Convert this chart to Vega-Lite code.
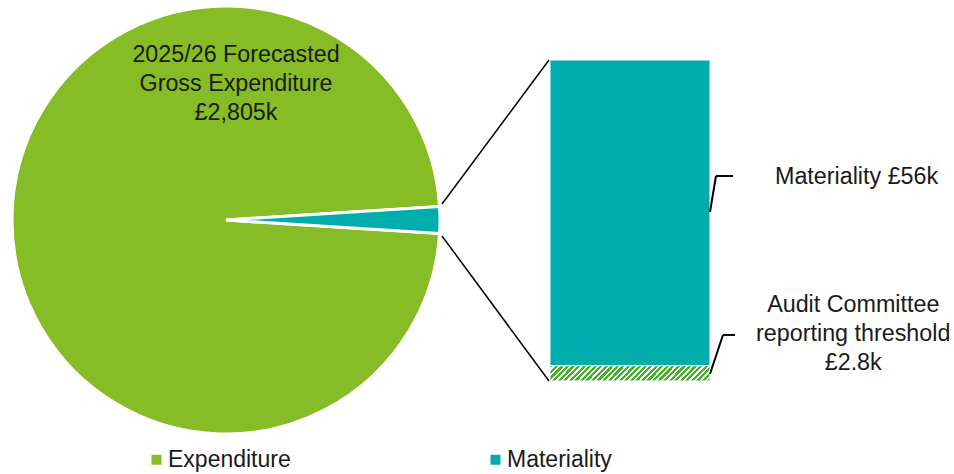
{
  "$schema": "https://vega.github.io/schema/vega-lite/v6.json",
  "width": 954,
  "height": 474,
  "padding": 0,
  "autosize": {"type": "none"},
  "background": "#ffffff",
  "config": {"view": {"stroke": null}},
  "datasets": {
    "pie": [
      {"category": "Expenditure", "amount": 2749},
      {"category": "Materiality", "amount": 56}
    ],
    "bar": [
      {"segment": "Materiality", "amount": 56},
      {"segment": "Threshold", "amount": 2.8}
    ]
  },
  "layer": [
    {
      "data": {"name": "pie"},
      "mark": {"type": "arc", "outerRadius": 214, "stroke": "#ffffff", "strokeWidth": 3},
      "encoding": {
        "theta": {"field": "amount", "type": "quantitative", "stack": true, "scale": {"range": [-4.6497, 1.6335]}},
        "color": {
          "field": "category",
          "type": "nominal",
          "scale": {"domain": ["Expenditure", "Materiality"], "range": ["#86bc25", "#00acac"]},
          "legend": {
            "orient": "none",
            "legendX": 145,
            "legendY": 448,
            "direction": "horizontal",
            "title": null,
            "symbolType": "square",
            "symbolSize": 100,
            "symbolStrokeWidth": 0,
            "labelFont": "Liberation Sans",
            "labelFontSize": 23,
            "labelColor": "#1a1a1a",
            "labelOffset": 0,
            "columnPadding": 193
          }
        },
        "x": {"datum": 41.4, "type": "quantitative", "scale": {"domain": [0, 174.76], "nice": false, "zero": false}, "axis": null},
        "y": {"datum": 29.49, "type": "quantitative", "scale": {"domain": [-17.04, 69.79], "nice": false, "zero": false}, "axis": null}
      }
    },
    {
      "data": {"name": "bar"},
      "transform": [
        {"stack": "amount", "groupby": [], "sort": [{"field": "segment", "order": "descending"}], "as": ["y0", "y1"]}
      ],
      "mark": {"type": "rect", "stroke": "#ffffff", "strokeWidth": 1},
      "encoding": {
        "x": {"datum": 100.75, "type": "quantitative", "scale": {"domain": [0, 174.76], "nice": false, "zero": false}, "axis": null},
        "x2": {"datum": 130.06},
        "y": {"field": "y0", "type": "quantitative", "scale": {"domain": [-17.04, 69.79], "nice": false, "zero": false}, "axis": null},
        "y2": {"field": "y1"},
        "fill": {
          "condition": {
            "test": "datum.segment === 'Threshold'",
            "value": {
              "gradient": "linear",
              "x1": 0, "y1": 0, "x2": 1.1, "y2": 0.103,
              "stops": [
                {"offset": 0, "color": "#46b02c"},
                {"offset": 0.018, "color": "#46b02c"}, {"offset": 0.018, "color": "#ffffff"},
                {"offset": 0.03125, "color": "#ffffff"}, {"offset": 0.03125, "color": "#46b02c"},
                {"offset": 0.049, "color": "#46b02c"}, {"offset": 0.049, "color": "#ffffff"},
                {"offset": 0.0625, "color": "#ffffff"}, {"offset": 0.0625, "color": "#46b02c"},
                {"offset": 0.0805, "color": "#46b02c"}, {"offset": 0.0805, "color": "#ffffff"},
                {"offset": 0.09375, "color": "#ffffff"}, {"offset": 0.09375, "color": "#46b02c"},
                {"offset": 0.112, "color": "#46b02c"}, {"offset": 0.112, "color": "#ffffff"},
                {"offset": 0.125, "color": "#ffffff"}, {"offset": 0.125, "color": "#46b02c"},
                {"offset": 0.143, "color": "#46b02c"}, {"offset": 0.143, "color": "#ffffff"},
                {"offset": 0.15625, "color": "#ffffff"}, {"offset": 0.15625, "color": "#46b02c"},
                {"offset": 0.174, "color": "#46b02c"}, {"offset": 0.174, "color": "#ffffff"},
                {"offset": 0.1875, "color": "#ffffff"}, {"offset": 0.1875, "color": "#46b02c"},
                {"offset": 0.2055, "color": "#46b02c"}, {"offset": 0.2055, "color": "#ffffff"},
                {"offset": 0.21875, "color": "#ffffff"}, {"offset": 0.21875, "color": "#46b02c"},
                {"offset": 0.237, "color": "#46b02c"}, {"offset": 0.237, "color": "#ffffff"},
                {"offset": 0.25, "color": "#ffffff"}, {"offset": 0.25, "color": "#46b02c"},
                {"offset": 0.268, "color": "#46b02c"}, {"offset": 0.268, "color": "#ffffff"},
                {"offset": 0.28125, "color": "#ffffff"}, {"offset": 0.28125, "color": "#46b02c"},
                {"offset": 0.299, "color": "#46b02c"}, {"offset": 0.299, "color": "#ffffff"},
                {"offset": 0.3125, "color": "#ffffff"}, {"offset": 0.3125, "color": "#46b02c"},
                {"offset": 0.3305, "color": "#46b02c"}, {"offset": 0.3305, "color": "#ffffff"},
                {"offset": 0.34375, "color": "#ffffff"}, {"offset": 0.34375, "color": "#46b02c"},
                {"offset": 0.362, "color": "#46b02c"}, {"offset": 0.362, "color": "#ffffff"},
                {"offset": 0.375, "color": "#ffffff"}, {"offset": 0.375, "color": "#46b02c"},
                {"offset": 0.393, "color": "#46b02c"}, {"offset": 0.393, "color": "#ffffff"},
                {"offset": 0.40625, "color": "#ffffff"}, {"offset": 0.40625, "color": "#46b02c"},
                {"offset": 0.424, "color": "#46b02c"}, {"offset": 0.424, "color": "#ffffff"},
                {"offset": 0.4375, "color": "#ffffff"}, {"offset": 0.4375, "color": "#46b02c"},
                {"offset": 0.4555, "color": "#46b02c"}, {"offset": 0.4555, "color": "#ffffff"},
                {"offset": 0.46875, "color": "#ffffff"}, {"offset": 0.46875, "color": "#46b02c"},
                {"offset": 0.487, "color": "#46b02c"}, {"offset": 0.487, "color": "#ffffff"},
                {"offset": 0.5, "color": "#ffffff"}, {"offset": 0.5, "color": "#46b02c"},
                {"offset": 0.518, "color": "#46b02c"}, {"offset": 0.518, "color": "#ffffff"},
                {"offset": 0.53125, "color": "#ffffff"}, {"offset": 0.53125, "color": "#46b02c"},
                {"offset": 0.549, "color": "#46b02c"}, {"offset": 0.549, "color": "#ffffff"},
                {"offset": 0.5625, "color": "#ffffff"}, {"offset": 0.5625, "color": "#46b02c"},
                {"offset": 0.5805, "color": "#46b02c"}, {"offset": 0.5805, "color": "#ffffff"},
                {"offset": 0.59375, "color": "#ffffff"}, {"offset": 0.59375, "color": "#46b02c"},
                {"offset": 0.612, "color": "#46b02c"}, {"offset": 0.612, "color": "#ffffff"},
                {"offset": 0.625, "color": "#ffffff"}, {"offset": 0.625, "color": "#46b02c"},
                {"offset": 0.643, "color": "#46b02c"}, {"offset": 0.643, "color": "#ffffff"},
                {"offset": 0.65625, "color": "#ffffff"}, {"offset": 0.65625, "color": "#46b02c"},
                {"offset": 0.674, "color": "#46b02c"}, {"offset": 0.674, "color": "#ffffff"},
                {"offset": 0.6875, "color": "#ffffff"}, {"offset": 0.6875, "color": "#46b02c"},
                {"offset": 0.7055, "color": "#46b02c"}, {"offset": 0.7055, "color": "#ffffff"},
                {"offset": 0.71875, "color": "#ffffff"}, {"offset": 0.71875, "color": "#46b02c"},
                {"offset": 0.737, "color": "#46b02c"}, {"offset": 0.737, "color": "#ffffff"},
                {"offset": 0.75, "color": "#ffffff"}, {"offset": 0.75, "color": "#46b02c"},
                {"offset": 0.768, "color": "#46b02c"}, {"offset": 0.768, "color": "#ffffff"},
                {"offset": 0.78125, "color": "#ffffff"}, {"offset": 0.78125, "color": "#46b02c"},
                {"offset": 0.799, "color": "#46b02c"}, {"offset": 0.799, "color": "#ffffff"},
                {"offset": 0.8125, "color": "#ffffff"}, {"offset": 0.8125, "color": "#46b02c"},
                {"offset": 0.8305, "color": "#46b02c"}, {"offset": 0.8305, "color": "#ffffff"},
                {"offset": 0.84375, "color": "#ffffff"}, {"offset": 0.84375, "color": "#46b02c"},
                {"offset": 0.862, "color": "#46b02c"}, {"offset": 0.862, "color": "#ffffff"},
                {"offset": 0.875, "color": "#ffffff"}, {"offset": 0.875, "color": "#46b02c"},
                {"offset": 0.893, "color": "#46b02c"}, {"offset": 0.893, "color": "#ffffff"},
                {"offset": 0.90625, "color": "#ffffff"}, {"offset": 0.90625, "color": "#46b02c"},
                {"offset": 0.924, "color": "#46b02c"}, {"offset": 0.924, "color": "#ffffff"},
                {"offset": 0.9375, "color": "#ffffff"}, {"offset": 0.9375, "color": "#46b02c"},
                {"offset": 0.9555, "color": "#46b02c"}, {"offset": 0.9555, "color": "#ffffff"},
                {"offset": 0.96875, "color": "#ffffff"}, {"offset": 0.96875, "color": "#46b02c"},
                {"offset": 0.987, "color": "#46b02c"}, {"offset": 0.987, "color": "#ffffff"},
                {"offset": 1, "color": "#ffffff"}
              ]
            }
          },
          "value": "#00acac"
        }
      }
    },
    {
      "data": {"values": [{"part": "upper connector"}]},
      "mark": {"type": "rule", "color": "#000000", "strokeWidth": 1.5},
      "encoding": {
        "x": {"datum": 80.97, "type": "quantitative", "scale": {"domain": [0, 174.76], "nice": false, "zero": false}, "axis": null},
        "y": {"datum": 32.42, "type": "quantitative", "scale": {"domain": [-17.04, 69.79], "nice": false, "zero": false}, "axis": null},
        "x2": {"datum": 100.57},
        "y2": {"datum": 58.8}
      }
    },
    {
      "data": {"values": [{"part": "lower connector"}]},
      "mark": {"type": "rule", "color": "#000000", "strokeWidth": 1.5},
      "encoding": {
        "x": {"datum": 80.97, "type": "quantitative", "scale": {"domain": [0, 174.76], "nice": false, "zero": false}, "axis": null},
        "y": {"datum": 26.56, "type": "quantitative", "scale": {"domain": [-17.04, 69.79], "nice": false, "zero": false}, "axis": null},
        "x2": {"datum": 100.57},
        "y2": {"datum": 0}
      }
    },
    {
      "data": {"values": [{"part": "materiality leader"}]},
      "mark": {"type": "rule", "color": "#000000", "strokeWidth": 2},
      "encoding": {
        "x": {"datum": 130.06, "type": "quantitative", "scale": {"domain": [0, 174.76], "nice": false, "zero": false}, "axis": null},
        "y": {"datum": 30.96, "type": "quantitative", "scale": {"domain": [-17.04, 69.79], "nice": false, "zero": false}, "axis": null},
        "x2": {"datum": 131.16},
        "y2": {"datum": 37.55}
      }
    },
    {
      "data": {"values": [{"part": "materiality leader end"}]},
      "mark": {"type": "rule", "color": "#000000", "strokeWidth": 2},
      "encoding": {
        "x": {"datum": 131.16, "type": "quantitative", "scale": {"domain": [0, 174.76], "nice": false, "zero": false}, "axis": null},
        "y": {"datum": 37.55, "type": "quantitative", "scale": {"domain": [-17.04, 69.79], "nice": false, "zero": false}, "axis": null},
        "x2": {"datum": 134.27},
        "y2": {"datum": 37.55}
      }
    },
    {
      "data": {"values": [{"part": "threshold leader"}]},
      "mark": {"type": "rule", "color": "#000000", "strokeWidth": 2},
      "encoding": {
        "x": {"datum": 130.06, "type": "quantitative", "scale": {"domain": [0, 174.76], "nice": false, "zero": false}, "axis": null},
        "y": {"datum": 1.28, "type": "quantitative", "scale": {"domain": [-17.04, 69.79], "nice": false, "zero": false}, "axis": null},
        "x2": {"datum": 132.44},
        "y2": {"datum": 8.43}
      }
    },
    {
      "data": {"values": [{"part": "threshold leader end"}]},
      "mark": {"type": "rule", "color": "#000000", "strokeWidth": 2},
      "encoding": {
        "x": {"datum": 132.44, "type": "quantitative", "scale": {"domain": [0, 174.76], "nice": false, "zero": false}, "axis": null},
        "y": {"datum": 8.43, "type": "quantitative", "scale": {"domain": [-17.04, 69.79], "nice": false, "zero": false}, "axis": null},
        "x2": {"datum": 134.64},
        "y2": {"datum": 8.43}
      }
    },
    {
      "data": {"values": [{"label": "2025/26 Forecasted\nGross  Expenditure\n£2,805k"}]},
      "mark": {"type": "text", "font": "Liberation Sans", "fontSize": 23.3, "lineHeight": 29, "lineBreak": "\n", "align": "center", "baseline": "middle", "color": "#1a1a1a"},
      "encoding": {
        "text": {"field": "label"},
        "x": {"datum": 43.23, "type": "quantitative", "scale": {"domain": [0, 174.76], "nice": false, "zero": false}, "axis": null},
        "y": {"datum": 59.72, "type": "quantitative", "scale": {"domain": [-17.04, 69.79], "nice": false, "zero": false}, "axis": null}
      }
    },
    {
      "data": {"values": [{"label": "Materiality £56k"}]},
      "mark": {"type": "text", "font": "Liberation Sans", "fontSize": 23.3, "align": "left", "baseline": "middle", "color": "#1a1a1a"},
      "encoding": {
        "text": {"field": "label"},
        "x": {"datum": 141.97, "type": "quantitative", "scale": {"domain": [0, 174.76], "nice": false, "zero": false}, "axis": null},
        "y": {"datum": 37.37, "type": "quantitative", "scale": {"domain": [-17.04, 69.79], "nice": false, "zero": false}, "axis": null}
      }
    },
    {
      "data": {"values": [{"label": "Audit Committee\nreporting threshold\n£2.8k"}]},
      "mark": {"type": "text", "font": "Liberation Sans", "fontSize": 23.3, "lineHeight": 29, "lineBreak": "\n", "align": "center", "baseline": "middle", "color": "#1a1a1a"},
      "encoding": {
        "text": {"field": "label"},
        "x": {"datum": 156.3, "type": "quantitative", "scale": {"domain": [0, 174.76], "nice": false, "zero": false}, "axis": null},
        "y": {"datum": 13.92, "type": "quantitative", "scale": {"domain": [-17.04, 69.79], "nice": false, "zero": false}, "axis": null}
      }
    }
  ]
}
